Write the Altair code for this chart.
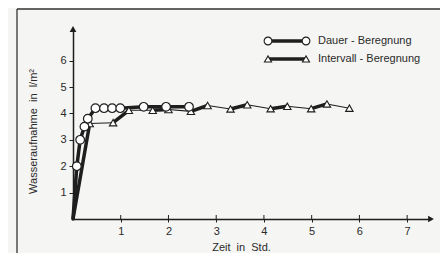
import altair as alt
import pandas as pd

# Dauer-Beregnung (circles)
dauer_t = [0, 0.08, 0.15, 0.24, 0.31, 0.47, 0.65, 0.82, 0.99, 1.48, 1.95, 2.43]
dauer_w = [0, 2.0, 3.0, 3.5, 3.8, 4.2, 4.2, 4.2, 4.2, 4.25, 4.25, 4.25]

# Intervall-Beregnung (triangles)
intervall_t = [0, 0.35, 0.84, 1.17, 1.67, 2.0, 2.47, 2.82, 3.3, 3.65, 4.14, 4.49, 4.99, 5.32, 5.79]
intervall_w = [0, 3.62, 3.65, 4.12, 4.12, 4.15, 4.08, 4.3, 4.17, 4.33, 4.18, 4.27, 4.18, 4.36, 4.2]
intervall_phase = ["Beregnung", "Pause"] * 7

x_ticks = [1, 2, 3, 4, 5, 6, 7]
y_ticks = [1, 2, 3, 4, 5, 6]
x_max = 7.5
y_max = 7.2

legend_labels = ["Dauer - Beregnung", "Intervall - Beregnung"]
x_title = "Zeit\u00a0\u00a0in\u00a0\u00a0Std."
y_title = "Wasseraufnahme\u00a0\u00a0in\u00a0\u00a0l/m\u00b2"

FONT = "Liberation Sans"
INK = "#1e1e1e"
TXT = "#2a2a2a"

dauer = pd.DataFrame({"t": dauer_t, "w": dauer_w})
dauer_pts = dauer.iloc[1:]
segs = pd.DataFrame({
    "t": intervall_t[:-1], "w": intervall_w[:-1],
    "t2": intervall_t[1:], "w2": intervall_w[1:],
    "phase": intervall_phase,
})
tri_pts = pd.DataFrame({"t": intervall_t[1:], "w": intervall_w[1:]})

xs = alt.Scale(domain=[0, x_max], nice=False, zero=True)
ys = alt.Scale(domain=[0, y_max], nice=False, zero=True)

xax = alt.Axis(values=x_ticks, format="d", grid=False, domainColor=INK, domainWidth=1.5,
               tickColor=INK, tickSize=3, tickWidth=1, labelFont=FONT, labelFontSize=11,
               labelColor=TXT, labelPadding=3, labelOverlap=False, title=x_title, titleFont=FONT,
               titleFontSize=11, titleFontWeight="normal", titleColor=TXT,
               titleX=168, titleY=28, titleBaseline="middle")
yax = alt.Axis(values=y_ticks, format="d", grid=False, domainColor=INK, domainWidth=1.5,
               tickColor=INK, tickSize=4, tickWidth=1, labelFont=FONT, labelFontSize=11,
               labelColor=TXT, labelPadding=3, labelOverlap=False, labelSeparation=0,
               title=y_title, titleFont=FONT,
               titleFontSize=11, titleFontWeight="normal", titleColor=TXT,
               titleX=-40, titleY=102, titleBaseline="middle", titleAlign="center")


def X(f="t:Q"):
    return alt.X(f, scale=xs, axis=xax)


def Y(f="w:Q"):
    return alt.Y(f, scale=ys, axis=yax)


# axis arrow heads
base = alt.Chart(pd.DataFrame({"t": [x_max], "w": [0]})).mark_point(
    shape="triangle-right", filled=True, color=INK, size=45, opacity=1).encode(x=X(), y=Y())
arrow_up = alt.Chart(pd.DataFrame({"t": [0], "w": [y_max]})).mark_point(
    shape="triangle-up", filled=True, color=INK, size=45, opacity=1).encode(x=X(), y=Y())

# upper part of x ticks (ticks cross the axis)
xt = alt.Chart(pd.DataFrame({"t": x_ticks})).mark_rule(color=INK, strokeWidth=1).encode(
    x=X(), y=alt.value(186), y2=alt.value(190))

seg_layer = alt.Chart(segs).mark_rule(color=INK, strokeCap="round").encode(
    x=X(), y=Y(), x2="t2:Q", y2="w2:Q",
    strokeWidth=alt.StrokeWidth("phase:N", scale=alt.Scale(domain=["Beregnung", "Pause"],
                                                           range=[3.5, 1.1]), legend=None),
)

dauer_line = alt.Chart(dauer).mark_line(color=INK, strokeWidth=3.5, strokeJoin="round").encode(
    x=X(), y=Y())

tri = alt.Chart(tri_pts).mark_point(shape="triangle-up", filled=True, fill="white",
                                    stroke=INK, strokeWidth=1.1, size=55, opacity=1).encode(
    x=X(), y=Y())

circ = alt.Chart(dauer_pts).mark_point(shape="circle", filled=True, fill="white",
                                       stroke=INK, strokeWidth=1.2, size=75, opacity=1).encode(
    x=X(), y=Y())

# frame lines (decoration)
frame_df = pd.DataFrame({"a": [0]})
frame_l = alt.Chart(frame_df).mark_rule(color="#333", strokeWidth=1.3).encode(
    x=alt.value(-56), y=alt.value(-20), y2=alt.value(240))
frame_t = alt.Chart(frame_df).mark_rule(color="#333", strokeWidth=1.3).encode(
    x=alt.value(-56), x2=alt.value(380), y=alt.value(-20))

# legend
def legend_row(label, ypix, shape, size):
    d = pd.DataFrame({"label": [label]})
    line = alt.Chart(d).mark_rule(color=INK, strokeWidth=3.5).encode(
        x=alt.value(195), x2=alt.value(233), y=alt.value(ypix))
    p1 = alt.Chart(d).mark_point(shape=shape, filled=True, fill="white", stroke=INK,
                                 strokeWidth=1.1, size=size, opacity=1).encode(
        x=alt.value(195), y=alt.value(ypix))
    p2 = alt.Chart(d).mark_point(shape=shape, filled=True, fill="white", stroke=INK,
                                 strokeWidth=1.1, size=size, opacity=1).encode(
        x=alt.value(233), y=alt.value(ypix))
    txt = alt.Chart(d).mark_text(align="left", baseline="middle", font=FONT, fontSize=11,
                                 color=TXT).encode(
        x=alt.value(245), y=alt.value(ypix), text="label:N")
    return [line, p1, p2, txt]

leg = legend_row(legend_labels[0], 12, "circle", 60) + legend_row(legend_labels[1], 30, "triangle-up", 50)

chart = alt.layer(base, arrow_up, xt, frame_l, frame_t, seg_layer, dauer_line, tri, circ, *leg).properties(
    width=358, height=190,
    padding={"left": 65, "top": 21, "right": 9, "bottom": 34},
    autosize=alt.AutoSizeParams(type="none"),
    background="#f5f5f3",
).configure_view(stroke=None)

chart.save("out.html", embed_options={"renderer": "svg", "actions": False})
